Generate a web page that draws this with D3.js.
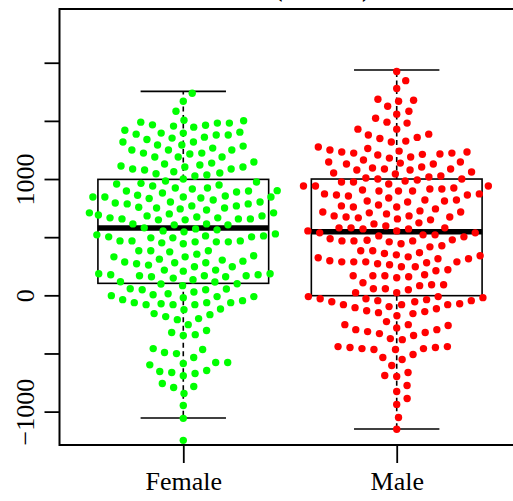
<!DOCTYPE html>
<html>
<head>
    <meta charset="utf-8">
    <title>Beeswarm by sex</title>
    <script src="https://d3js.org/d3.v7.min.js"></script>
    <style>
        body { margin: 0; background: #ffffff; }
        svg { display: block; }
        text { font-family: "Liberation Serif", "Times New Roman", serif; }
    </style>
</head>
<body>
    <svg width="513" height="501"></svg>
    <script>
        // categories and values
        const categories = ["Female", "Male"];
        const colors = ["#00ff00", "#ff0000"];

        const femaleValues = [
            1738, 1669, 1583,
            1501, 1481, 1463, 1466, 1455, 1481, 1489, 1506,
            1395, 1446, 1378, 1420, 1403, 1378, 1386, 1395,
            1318, 1360, 1318, 1340, 1292, 1292, 1352,
            1249, 1189, 1283, 1223, 1223, 1215, 1189, 1189, 1249, 1249, 1266,
            1129, 1086, 1063, 1112, 1046, 1137, 1026, 1103, 1103, 1035, 1052, 1077, 1086, 1120, 1146,
            1000, 963, 974, 983, 957, 940, 949,
            897, 860, 846, 923, 897, 914, 889, 880, 923, 846, 900, 846,
            803, 803, 832, 786, 820, 769, 786, 846, 794, 837, 854, 769, 743, 751, 709,
            757, 751, 734, 674, 657, 657, 691, 649, 683, 649, 666, 700, 709, 657, 666, 683,
            606, 571, 606, 563, 546, 580, 614, 614, 554,
            528, 503, 468, 460, 451, 511, 468, 443, 494, 511, 460, 494, 520, 460, 468, 503,
            383, 340, 354, 383, 331, 374, 383,
            311, 294, 260, 217, 280, 217, 280, 208, 246, 286, 271, 303, 331,
            177, 168, 246, 185, 160, 114, 148, 97, 134, 100, 160, 177, 168, 168, 185, 117,
            54, 28, 48, -11, 14, 48, 5, 57, 83,
            -11, -63, -63, -117, -37, -157, -80, -80, -80, -46, -123, -72, -63, -20, -3,
            -252, -166, -209, -200, -183,
            -320, -346, -338, -303,
            -458, -501, -535, -492, -466,
            -578, -646, -672, -598, -692, -655, -664, -586, -578,
            -784, -844, -792, -758,
            -947, -1058, -1247
        ];

        const maleValues = [
            1924, 1846, 1778,
            1686, 1669, 1626, 1678,
            1583, 1558, 1523, 1489, 1481,
            1429, 1429,
            1358, 1349, 1318, 1326, 1378, 1386,
            1263, 1249, 1232, 1215, 1232, 1189, 1180, 1212, 1240, 1206, 1223, 1275, 1223,
            1146, 1146, 1086, 1137, 1086, 1077, 1052, 1077, 1129, 1129, 1095, 1103, 1163, 1060,
            1043, 1000, 1017, 992, 974, 940, 940, 974, 1009, 1026, 983, 1000,
            957, 906, 872, 923, 897, 872, 863, 837, 854, 897, 914, 914, 863, 897, 940,
            726, 709, 820, 811, 769, 717, 760, 700, 743, 760, 803, 811, 820, 777, 717,
            580, 580, 683, 674, 657, 623, 597, 614, 649, 666, 674, 683, 580, 571,
            537, 486, 474, 520, 468, 554, 503, 460, 520, 511, 554, 571, 468, 468, 477, 537,
            426, 417, 443,
            340, 323, 288, 280, 314, 288, 246, 314, 297, 246, 348, 263, 271, 288, 288, 331, 383, 366, 383, 360,
            168, 211, 160, 168, 220, 151, 168, 177,
            91, 83, 48, 108, 23, 57, 57, 91, 23,
            -11, -11, -46, -55, -80, -97, -132, -37, -149, -80, -29, -106, -55, -29, -140, -115, -80, -72, -46, -20, -157, -175,
            -252, -295, -312, -329, -226, -280, -252, -381, -372, -346, -320, -295, -260,
            -441, -449, -458, -509, -466, -535, -466, -458, -449, -441, -552, -604,
            -664, -698, -689,
            -775, -827, -887,
            -938, -1050, -1152
        ];

        // box stats: lower whisker, Q1, median, Q3, upper whisker
        const femaleBox = [-1055, 103, 578, 997, 1754];
        const maleBox = [-1150, -3, 547, 1000, 1937];

        const yTicks = [-1000, -500, 0, 500, 1000, 1500, 2000];
        const yLabelled = [-1000, 0, 1000];

        const groups = [femaleValues, maleValues];
        const boxes = [femaleBox, maleBox];

        const svg = d3.select("svg");

        // R style plot region
        const x = d3.scaleLinear().domain([0.42, 2.58]).range([59.5, 520.5]);
        const y = d3.scaleLinear().domain([-1287, 2462]).range([445, 9]);

        // title, mostly cut off at the top like the reference
        svg.append("text")
            .attr("x", 371)
            .attr("y", -4)
            .attr("text-anchor", "end")
            .style("font-size", "27px")
            .style("font-weight", "bold")
            .text("Income (dollars)");

        // boxplots first, points go on top
        const boxWex = 0.8;
        boxes.forEach((b, i) => {
            const g = svg.append("g");
            const cx = x(i + 1);
            const half = x(i + 1 + boxWex / 2) - cx;
            // whiskers
            g.append("line")
                .attr("x1", cx).attr("x2", cx)
                .attr("y1", y(b[3])).attr("y2", y(b[4]))
                .attr("stroke", "#000").attr("stroke-width", 1.6)
                .attr("stroke-dasharray", "5,3.5");
            g.append("line")
                .attr("x1", cx).attr("x2", cx)
                .attr("y1", y(b[1])).attr("y2", y(b[0]))
                .attr("stroke", "#000").attr("stroke-width", 1.6)
                .attr("stroke-dasharray", "5,3.5");
            // staples
            [b[0], b[4]].forEach(v => {
                g.append("line")
                    .attr("x1", cx - half / 2).attr("x2", cx + half / 2)
                    .attr("y1", y(v)).attr("y2", y(v))
                    .attr("stroke", "#000").attr("stroke-width", 1.6);
            });
            // box
            g.append("rect")
                .attr("x", cx - half)
                .attr("y", y(b[3]))
                .attr("width", half * 2)
                .attr("height", y(b[1]) - y(b[3]))
                .attr("fill", "none")
                .attr("stroke", "#000")
                .attr("stroke-width", 1.6);
            // median
            g.append("line")
                .attr("x1", cx - half).attr("x2", cx + half)
                .attr("y1", y(b[2])).attr("y2", y(b[2]))
                .attr("stroke", "#000").attr("stroke-width", 5.5);
        });

        // swarm layout like beeswarm(method = "swarm", priority = "ascending")
        const spacing = 12;
        function swarm(ys) {
            const order = d3.range(ys.length).sort((a, b) => ys[b] - ys[a] || a - b);
            const placed = [];
            const off = new Array(ys.length).fill(0);
            order.forEach(i => {
                const yi = ys[i];
                const pre = placed.filter(p => Math.abs(p.y - yi) < spacing);
                let best = 0;
                if (pre.length) {
                    pre.sort((a, b) => Math.abs(a.x) - Math.abs(b.x));
                    const cands = [0];
                    pre.forEach(p => cands.push(p.x + Math.sqrt(spacing * spacing - (p.y - yi) ** 2)));
                    pre.forEach(p => cands.push(p.x - Math.sqrt(spacing * spacing - (p.y - yi) ** 2)));
                    let bestAbs = Infinity;
                    cands.forEach(c => {
                        const bad = pre.some(p => (c - p.x) ** 2 + (yi - p.y) ** 2 < 0.999 * spacing * spacing);
                        if (!bad && Math.abs(c) < bestAbs) { bestAbs = Math.abs(c); best = c; }
                    });
                }
                placed.push({ x: best, y: yi });
                off[i] = best;
            });
            return off;
        }

        // corral = "gutter"
        const corralWidth = 0.88;
        groups.forEach((vals, i) => {
            const ys = vals.map(v => y(v));
            const offs = swarm(ys);
            const cx = x(i + 1);
            const lim = x(i + 1 + corralWidth / 2) - cx;
            svg.append("g")
                .selectAll("circle")
                .data(vals)
                .join("circle")
                .attr("cx", (d, j) => cx + Math.max(-lim, Math.min(lim, offs[j])))
                .attr("cy", d => y(d))
                .attr("r", 3.7)
                .attr("fill", colors[i]);
        });

        // frame
        svg.append("rect")
            .attr("x", x(0.42))
            .attr("y", y(2462))
            .attr("width", x(2.58) - x(0.42))
            .attr("height", y(-1287) - y(2462))
            .attr("fill", "none")
            .attr("stroke", "#000")
            .attr("stroke-width", 2);

        // y axis
        const yAxis = svg.append("g")
            .attr("transform", `translate(${x(0.42)},0)`)
            .call(d3.axisLeft(y)
                .tickValues(yTicks)
                .tickSize(15)
                .tickSizeOuter(0)
                .tickFormat(d => yLabelled.includes(d) ? d3.format("d")(d) : ""));
        yAxis.select(".domain").remove();
        yAxis.selectAll(".tick line").attr("stroke-width", 1.8);
        yAxis.selectAll(".tick text")
            .attr("transform", "rotate(-90)")
            .attr("x", 0)
            .attr("y", -26)
            .attr("dy", 0)
            .attr("text-anchor", "middle")
            .attr("fill", "#000")
            .style("font-size", "26px")
            .style("font-family", "'Liberation Serif', 'Times New Roman', serif");

        // x axis
        const xAxis = svg.append("g")
            .attr("transform", `translate(0,${y(-1287)})`)
            .call(d3.axisBottom(x)
                .tickValues([1, 2])
                .tickSize(18)
                .tickSizeOuter(0)
                .tickFormat(d => categories[d - 1]));
        xAxis.select(".domain").remove();
        xAxis.selectAll(".tick line").attr("stroke-width", 1.8);
        xAxis.selectAll(".tick text")
            .attr("y", 45)
            .attr("dy", 0)
            .attr("fill", "#000")
            .style("font-size", "26px")
            .style("font-family", "'Liberation Serif', 'Times New Roman', serif");
    </script>
</body>
</html>
